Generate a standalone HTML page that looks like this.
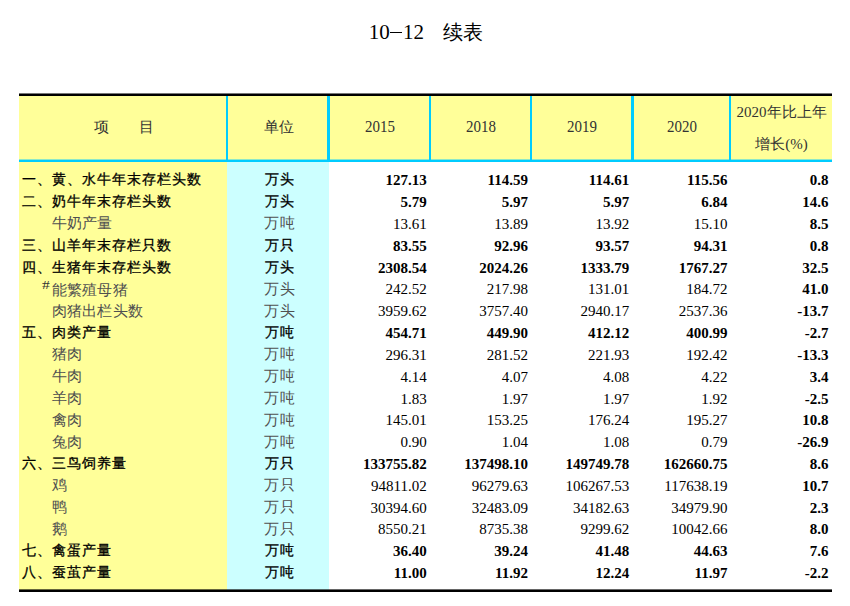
<!DOCTYPE html>
<html><head><meta charset="utf-8"><style>
html,body{margin:0;padding:0;background:#fff;}
body{width:850px;height:606px;position:relative;overflow:hidden;font-family:"Liberation Serif",serif;color:#000;}
.a{position:absolute;}
.t{position:absolute;white-space:nowrap;line-height:20px;height:20px;font-size:15px;}
.r{text-align:right;}
.c{text-align:center;}
.b{font-weight:bold;}
.k{-webkit-text-stroke:0.3px #000;font-size:14px;letter-spacing:1px;}
.g{color:#505050;}
.gc{font-size:14.5px;letter-spacing:0.3px;}
.h{color:#333;}
</style></head><body>

<div class="t" style="left:368.8px;top:21px;font-size:21px;line-height:22px;">10<span style="display:inline-block;width:12.5px;height:1.5px;background:#000;vertical-align:top;margin-top:10.5px;margin-right:0.8px"></span>12</div>
<div class="t" style="left:443px;top:22px;font-size:20px;line-height:20px;">续表</div>
<div class="a" style="left:19px;top:96px;width:813px;height:64px;background:#ffff99"></div>
<div class="a" style="left:19px;top:162px;width:208px;height:428px;background:#ffff99"></div>
<div class="a" style="left:227px;top:162px;width:102px;height:428px;background:#ccffff"></div>
<div class="a" style="left:19px;top:93px;width:813px;height:1px;background:#777"></div>
<div class="a" style="left:19px;top:94px;width:813px;height:2px;background:#000"></div>
<div class="a" style="left:19px;top:589px;width:813px;height:1px;background:rgba(0,0,0,0.6)"></div>
<div class="a" style="left:19px;top:590px;width:813px;height:2px;background:#000"></div>
<div class="a" style="left:19px;top:159px;width:813px;height:1px;background:rgba(0,204,255,0.45)"></div>
<div class="a" style="left:19px;top:160px;width:813px;height:2px;background:#00ccff"></div>
<div class="a" style="left:226px;top:96px;width:2px;height:64px;background:#00ccff"></div>
<div class="a" style="left:327px;top:96px;width:3px;height:64px;background:#00ccff"></div>
<div class="a" style="left:429px;top:96px;width:2px;height:64px;background:#00ccff"></div>
<div class="a" style="left:530px;top:96px;width:2px;height:64px;background:#00ccff"></div>
<div class="a" style="left:631px;top:96px;width:3px;height:64px;background:#00ccff"></div>
<div class="a" style="left:729px;top:96px;width:2px;height:64px;background:#00ccff"></div>
<div class="t c h" style="left:20px;width:207px;top:117px;">项　　目</div>
<div class="t c h" style="left:229px;width:99px;top:117px;">单位</div>
<div class="t c h" style="left:330.6px;width:99px;top:117px;"><span style="display:inline-block;transform:scaleY(1.1);transform-origin:50% 65%;">2015</span></div>
<div class="t c h" style="left:431.6px;width:99px;top:117px;"><span style="display:inline-block;transform:scaleY(1.1);transform-origin:50% 65%;">2018</span></div>
<div class="t c h" style="left:532.6px;width:99px;top:117px;"><span style="display:inline-block;transform:scaleY(1.1);transform-origin:50% 65%;">2019</span></div>
<div class="t c h" style="left:634.6px;width:95px;top:117px;"><span style="display:inline-block;transform:scaleY(1.1);transform-origin:50% 65%;">2020</span></div>
<div class="t c h" style="left:731px;width:101px;top:101.5px;">2020年比上年</div>
<div class="t c h" style="left:731px;width:101px;top:134.3px;">增长(%)</div>
<div class="t k" style="left:21.5px;top:170.3px;">一、黄、水牛年末存栏头数</div>
<div class="t c k" style="left:229.7px;width:100px;top:170.3px;">万头</div>
<div class="t r b" style="left:306.8px;width:120px;top:170.3px;">127.13</div>
<div class="t r b" style="left:408.0px;width:120px;top:170.3px;">114.59</div>
<div class="t r b" style="left:509.2px;width:120px;top:170.3px;">114.61</div>
<div class="t r b" style="left:607.5px;width:120px;top:170.3px;">115.56</div>
<div class="t r b" style="left:708.6px;width:120px;top:170.3px;">0.8</div>
<div class="t k" style="left:21.5px;top:192.1px;">二、奶牛年末存栏头数</div>
<div class="t c k" style="left:229.7px;width:100px;top:192.1px;">万头</div>
<div class="t r b" style="left:306.8px;width:120px;top:192.1px;">5.79</div>
<div class="t r b" style="left:408.0px;width:120px;top:192.1px;">5.97</div>
<div class="t r b" style="left:509.2px;width:120px;top:192.1px;">5.97</div>
<div class="t r b" style="left:607.5px;width:120px;top:192.1px;">6.84</div>
<div class="t r b" style="left:708.6px;width:120px;top:192.1px;">14.6</div>
<div class="t g gc" style="left:51.5px;top:213.3px;">牛奶产量</div>
<div class="t c g gc" style="left:229.7px;width:100px;top:213.3px;">万吨</div>
<div class="t r " style="left:306.8px;width:120px;top:213.9px;">13.61</div>
<div class="t r " style="left:408.0px;width:120px;top:213.9px;">13.89</div>
<div class="t r " style="left:509.2px;width:120px;top:213.9px;">13.92</div>
<div class="t r " style="left:607.5px;width:120px;top:213.9px;">15.10</div>
<div class="t r b" style="left:708.6px;width:120px;top:213.9px;">8.5</div>
<div class="t k" style="left:21.5px;top:235.8px;">三、山羊年末存栏只数</div>
<div class="t c k" style="left:229.7px;width:100px;top:235.8px;">万只</div>
<div class="t r b" style="left:306.8px;width:120px;top:235.8px;">83.55</div>
<div class="t r b" style="left:408.0px;width:120px;top:235.8px;">92.96</div>
<div class="t r b" style="left:509.2px;width:120px;top:235.8px;">93.57</div>
<div class="t r b" style="left:607.5px;width:120px;top:235.8px;">94.31</div>
<div class="t r b" style="left:708.6px;width:120px;top:235.8px;">0.8</div>
<div class="t k" style="left:21.5px;top:257.6px;">四、生猪年末存栏头数</div>
<div class="t c k" style="left:229.7px;width:100px;top:257.6px;">万头</div>
<div class="t r b" style="left:306.8px;width:120px;top:257.6px;">2308.54</div>
<div class="t r b" style="left:408.0px;width:120px;top:257.6px;">2024.26</div>
<div class="t r b" style="left:509.2px;width:120px;top:257.6px;">1333.79</div>
<div class="t r b" style="left:607.5px;width:120px;top:257.6px;">1767.27</div>
<div class="t r b" style="left:708.6px;width:120px;top:257.6px;">32.5</div>
<div class="t" style="left:41.5px;top:274.6px;font-size:12px;color:#333;transform:scaleX(1.3);transform-origin:0 0;">#</div>
<div class="t g gc" style="left:51.5px;top:280.2px;">能繁殖母猪</div>
<div class="t c g gc" style="left:229.7px;width:100px;top:278.8px;">万头</div>
<div class="t r " style="left:306.8px;width:120px;top:279.4px;">242.52</div>
<div class="t r " style="left:408.0px;width:120px;top:279.4px;">217.98</div>
<div class="t r " style="left:509.2px;width:120px;top:279.4px;">131.01</div>
<div class="t r " style="left:607.5px;width:120px;top:279.4px;">184.72</div>
<div class="t r b" style="left:708.6px;width:120px;top:279.4px;">41.0</div>
<div class="t g gc" style="left:51.5px;top:300.6px;">肉猪出栏头数</div>
<div class="t c g gc" style="left:229.7px;width:100px;top:300.6px;">万头</div>
<div class="t r " style="left:306.8px;width:120px;top:301.2px;">3959.62</div>
<div class="t r " style="left:408.0px;width:120px;top:301.2px;">3757.40</div>
<div class="t r " style="left:509.2px;width:120px;top:301.2px;">2940.17</div>
<div class="t r " style="left:607.5px;width:120px;top:301.2px;">2537.36</div>
<div class="t r b" style="left:708.6px;width:120px;top:301.2px;">-13.7</div>
<div class="t k" style="left:21.5px;top:323.0px;">五、肉类产量</div>
<div class="t c k" style="left:229.7px;width:100px;top:323.0px;">万吨</div>
<div class="t r b" style="left:306.8px;width:120px;top:323.0px;">454.71</div>
<div class="t r b" style="left:408.0px;width:120px;top:323.0px;">449.90</div>
<div class="t r b" style="left:509.2px;width:120px;top:323.0px;">412.12</div>
<div class="t r b" style="left:607.5px;width:120px;top:323.0px;">400.99</div>
<div class="t r b" style="left:708.6px;width:120px;top:323.0px;">-2.7</div>
<div class="t g gc" style="left:51.5px;top:344.3px;">猪肉</div>
<div class="t c g gc" style="left:229.7px;width:100px;top:344.3px;">万吨</div>
<div class="t r " style="left:306.8px;width:120px;top:344.9px;">296.31</div>
<div class="t r " style="left:408.0px;width:120px;top:344.9px;">281.52</div>
<div class="t r " style="left:509.2px;width:120px;top:344.9px;">221.93</div>
<div class="t r " style="left:607.5px;width:120px;top:344.9px;">192.42</div>
<div class="t r b" style="left:708.6px;width:120px;top:344.9px;">-13.3</div>
<div class="t g gc" style="left:51.5px;top:366.1px;">牛肉</div>
<div class="t c g gc" style="left:229.7px;width:100px;top:366.1px;">万吨</div>
<div class="t r " style="left:306.8px;width:120px;top:366.7px;">4.14</div>
<div class="t r " style="left:408.0px;width:120px;top:366.7px;">4.07</div>
<div class="t r " style="left:509.2px;width:120px;top:366.7px;">4.08</div>
<div class="t r " style="left:607.5px;width:120px;top:366.7px;">4.22</div>
<div class="t r b" style="left:708.6px;width:120px;top:366.7px;">3.4</div>
<div class="t g gc" style="left:51.5px;top:387.9px;">羊肉</div>
<div class="t c g gc" style="left:229.7px;width:100px;top:387.9px;">万吨</div>
<div class="t r " style="left:306.8px;width:120px;top:388.5px;">1.83</div>
<div class="t r " style="left:408.0px;width:120px;top:388.5px;">1.97</div>
<div class="t r " style="left:509.2px;width:120px;top:388.5px;">1.97</div>
<div class="t r " style="left:607.5px;width:120px;top:388.5px;">1.92</div>
<div class="t r b" style="left:708.6px;width:120px;top:388.5px;">-2.5</div>
<div class="t g gc" style="left:51.5px;top:409.7px;">禽肉</div>
<div class="t c g gc" style="left:229.7px;width:100px;top:409.7px;">万吨</div>
<div class="t r " style="left:306.8px;width:120px;top:410.3px;">145.01</div>
<div class="t r " style="left:408.0px;width:120px;top:410.3px;">153.25</div>
<div class="t r " style="left:509.2px;width:120px;top:410.3px;">176.24</div>
<div class="t r " style="left:607.5px;width:120px;top:410.3px;">195.27</div>
<div class="t r b" style="left:708.6px;width:120px;top:410.3px;">10.8</div>
<div class="t g gc" style="left:51.5px;top:431.5px;">兔肉</div>
<div class="t c g gc" style="left:229.7px;width:100px;top:431.5px;">万吨</div>
<div class="t r " style="left:306.8px;width:120px;top:432.1px;">0.90</div>
<div class="t r " style="left:408.0px;width:120px;top:432.1px;">1.04</div>
<div class="t r " style="left:509.2px;width:120px;top:432.1px;">1.08</div>
<div class="t r " style="left:607.5px;width:120px;top:432.1px;">0.79</div>
<div class="t r b" style="left:708.6px;width:120px;top:432.1px;">-26.9</div>
<div class="t k" style="left:21.5px;top:454.0px;">六、三鸟饲养量</div>
<div class="t c k" style="left:229.7px;width:100px;top:454.0px;">万只</div>
<div class="t r b" style="left:306.8px;width:120px;top:454.0px;">133755.82</div>
<div class="t r b" style="left:408.0px;width:120px;top:454.0px;">137498.10</div>
<div class="t r b" style="left:509.2px;width:120px;top:454.0px;">149749.78</div>
<div class="t r b" style="left:607.5px;width:120px;top:454.0px;">162660.75</div>
<div class="t r b" style="left:708.6px;width:120px;top:454.0px;">8.6</div>
<div class="t g gc" style="left:51.5px;top:475.2px;">鸡</div>
<div class="t c g gc" style="left:229.7px;width:100px;top:475.2px;">万只</div>
<div class="t r " style="left:306.8px;width:120px;top:475.8px;">94811.02</div>
<div class="t r " style="left:408.0px;width:120px;top:475.8px;">96279.63</div>
<div class="t r " style="left:509.2px;width:120px;top:475.8px;">106267.53</div>
<div class="t r " style="left:607.5px;width:120px;top:475.8px;">117638.19</div>
<div class="t r b" style="left:708.6px;width:120px;top:475.8px;">10.7</div>
<div class="t g gc" style="left:51.5px;top:497.0px;">鸭</div>
<div class="t c g gc" style="left:229.7px;width:100px;top:497.0px;">万只</div>
<div class="t r " style="left:306.8px;width:120px;top:497.6px;">30394.60</div>
<div class="t r " style="left:408.0px;width:120px;top:497.6px;">32483.09</div>
<div class="t r " style="left:509.2px;width:120px;top:497.6px;">34182.63</div>
<div class="t r " style="left:607.5px;width:120px;top:497.6px;">34979.90</div>
<div class="t r b" style="left:708.6px;width:120px;top:497.6px;">2.3</div>
<div class="t g gc" style="left:51.5px;top:518.8px;">鹅</div>
<div class="t c g gc" style="left:229.7px;width:100px;top:518.8px;">万只</div>
<div class="t r " style="left:306.8px;width:120px;top:519.4px;">8550.21</div>
<div class="t r " style="left:408.0px;width:120px;top:519.4px;">8735.38</div>
<div class="t r " style="left:509.2px;width:120px;top:519.4px;">9299.62</div>
<div class="t r " style="left:607.5px;width:120px;top:519.4px;">10042.66</div>
<div class="t r b" style="left:708.6px;width:120px;top:519.4px;">8.0</div>
<div class="t k" style="left:21.5px;top:541.2px;">七、禽蛋产量</div>
<div class="t c k" style="left:229.7px;width:100px;top:541.2px;">万吨</div>
<div class="t r b" style="left:306.8px;width:120px;top:541.2px;">36.40</div>
<div class="t r b" style="left:408.0px;width:120px;top:541.2px;">39.24</div>
<div class="t r b" style="left:509.2px;width:120px;top:541.2px;">41.48</div>
<div class="t r b" style="left:607.5px;width:120px;top:541.2px;">44.63</div>
<div class="t r b" style="left:708.6px;width:120px;top:541.2px;">7.6</div>
<div class="t k" style="left:21.5px;top:563.1px;">八、蚕茧产量</div>
<div class="t c k" style="left:229.7px;width:100px;top:563.1px;">万吨</div>
<div class="t r b" style="left:306.8px;width:120px;top:563.1px;">11.00</div>
<div class="t r b" style="left:408.0px;width:120px;top:563.1px;">11.92</div>
<div class="t r b" style="left:509.2px;width:120px;top:563.1px;">12.24</div>
<div class="t r b" style="left:607.5px;width:120px;top:563.1px;">11.97</div>
<div class="t r b" style="left:708.6px;width:120px;top:563.1px;">-2.2</div>
</body></html>
